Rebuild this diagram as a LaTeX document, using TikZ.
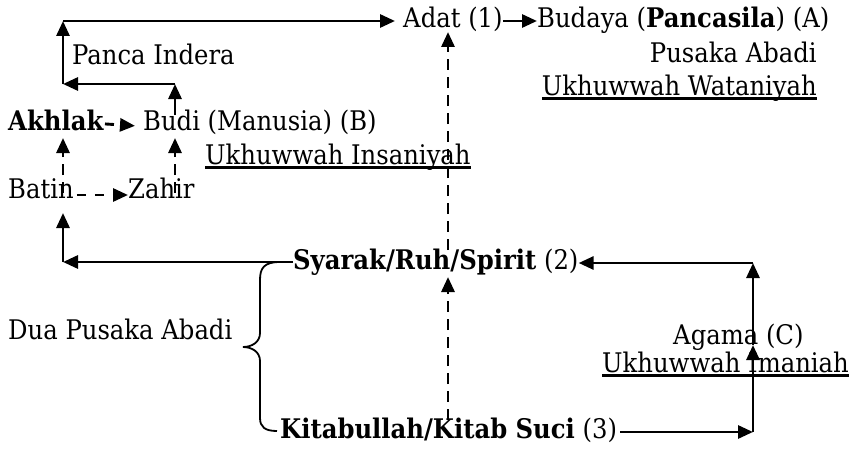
\documentclass[tikz,border=0pt]{standalone}
\usepackage{fontspec}
\setmainfont{DejaVu Serif}[FakeStretch=0.9]
\usetikzlibrary{arrows.meta}

\begin{document}
\begin{tikzpicture}[x=1pt,y=-1pt,
  txt/.style={inner sep=0pt, anchor=base west, font=\fontsize{27}{31}\selectfont},
  conn/.style={line width=2.9pt, -{Triangle[length=15pt,width=13pt]}},
  dconn/.style={conn, dash pattern=on 11pt off 7pt},
  uline/.style={line width=2.9pt},
  brace/.style={line width=1.8pt}]
\useasboundingbox (0,0) rectangle (856,452);

% text blocks
\node[txt] (adat) at (403,28) {Adat (1)};
\node[txt] (budaya) at (537,28) {Budaya (\textbf{Pancasila}) (A)};
\node[txt, anchor=base east] (pusaka) at (817,63) {Pusaka Abadi};
\node[txt, anchor=base east] (watan) at (817,95) {Ukhuwwah Wataniyah};
\node[txt] (panca) at (72,64) {Panca Indera};
\node[txt] (akhlak) at (8,130) {\textbf{Akhlak}};
\node[txt] (budi) at (143,130) {Budi (Manusia) (B)};
\node[txt] (insan) at (205,164) {Ukhuwwah Insaniyah};
\node[txt] (batin) at (8,198) {Batin};
\node[txt] (zahir) at (128,198) {Zahir};
\node[txt] (syarak) at (293,269) {\textbf{Syarak/Ruh/Spirit} (2)};
\node[txt] (dua) at (8,339) {Dua Pusaka Abadi};
\node[txt] (agama) at (673,344) {Agama (C)};
\node[txt] (iman) at (602,372) {Ukhuwwah Imaniah};
\node[txt] (kitab) at (280,438) {\textbf{Kitabullah/Kitab Suci} (3)};

% underlines
\foreach \n in {watan,insan,iman}
  \draw[uline] ([yshift=-3.5pt]\n.base west) -- ([yshift=-3.5pt]\n.base east);

% bend points and free ends
\coordinate (tl) at (63,21);
\coordinate (ml) at (63,84);
\coordinate (mb) at (175,84);
\coordinate (bs) at (175,115);
\coordinate (sl) at (63,262);
\coordinate (lu) at (63,213);
\coordinate (bt) at (63,193);
\coordinate (ak) at (63,138);
\coordinate (zt) at (175,193);
\coordinate (bu) at (175,138);
\coordinate (ct) at (448,250);
\coordinate (ca) at (448,32);
\coordinate (cb) at (448,420);
\coordinate (cs) at (448,277);
\coordinate (tr) at (753,263);
\coordinate (mr) at (753,345);
\coordinate (br) at (753,432);

% solid connectors
\draw[conn] (bs) -- (mb);
\draw[conn] (mb) -- (ml);
\draw[conn] (ml) -- (tl);
\draw[conn, shorten >=8pt] (tl) -- (adat.west |- tl);
\draw[conn] (adat.east |- tl) -- (budaya.west |- tl);
\draw[conn] (syarak.west |- sl) -- (sl);
\draw[conn] (sl) -- (lu);
\draw[conn] (tr) -- (syarak.east |- tr);
\draw[conn] (br) -- (mr);
\draw[conn] (mr) -- (tr);
\draw[conn, shorten <=3pt] (kitab.east |- br) -- (br);

% dashed connectors
\draw[conn, dash pattern=on 9pt off 20pt] ([xshift=1pt,yshift=-4pt]akhlak.east) -- ([xshift=-8pt,yshift=-4pt]budi.west);
\draw[conn, dash pattern=on 9pt off 9pt] ([xshift=3pt,yshift=3pt]batin.base east) -- ([yshift=3pt]zahir.base west);
\draw[dconn] (bt) -- (ak);
\draw[dconn] (zt) -- (bu);
\draw[dconn] (ct) -- (ca);
\draw[dconn] (cb) -- (cs);

% brace grouping the two sources
\draw[brace] (280,262) .. controls (264,262) and (260,268) .. (260,280)
  -- (260,333) .. controls (260,342) and (252,347) .. (243,347)
  .. controls (252,347) and (260,352) .. (260,361)
  -- (260,418) .. controls (260,427) and (265,431) .. (277,431);
\end{tikzpicture}
\end{document}
